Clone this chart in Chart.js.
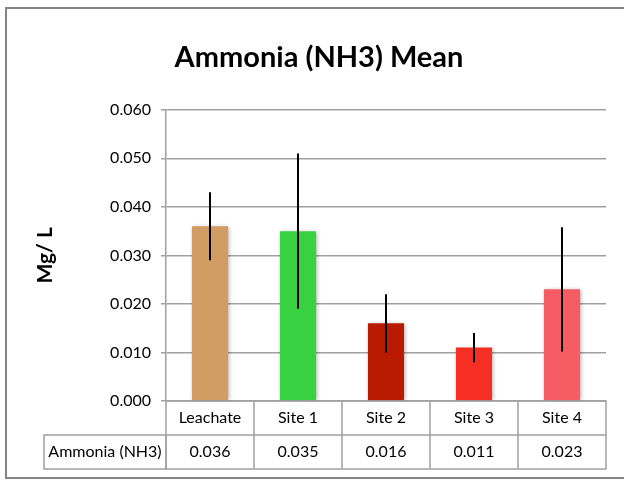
<!DOCTYPE html>
<html>
<head>
<meta charset="utf-8">
<title>Ammonia (NH3) Mean</title>
<script src="https://cdn.jsdelivr.net/npm/chart.js@4"></script>
<style>
  html, body { margin: 0; padding: 0; background: #fff; }
  #wrap { width: 624px; height: 481px; }
</style>
</head>
<body>
<div id="wrap"><canvas id="myChart" width="624" height="481"></canvas></div>
<script>
'use strict';

// chart data
let siteNames = ['Leachate', 'Site 1', 'Site 2', 'Site 3', 'Site 4'];
let ammoniaMeans = [0.036, 0.035, 0.016, 0.011, 0.023];
let ammoniaErrors = [0.007, 0.016, 0.006, 0.003, 0.0128];
let barColors = ['#d29d62', '#38d142', '#b81a02', '#f52f24', '#f65c64'];
let yTicks = [0, 0.01, 0.02, 0.03, 0.04, 0.05, 0.06];
let seriesName = 'Ammonia (NH3)';

let fontFamily = 'Lato, "Open Sans", sans-serif';
let lineGrey = '#a0a0a0';

// bars get a soft shadow, then the error bars go on top
const errorBarPlugin = {
  id: 'errorBars',
  beforeDatasetsDraw(chart) {
    let ctx = chart.ctx;
    ctx.save();
    ctx.shadowColor = 'rgba(0, 0, 0, 0.3)';
    ctx.shadowBlur = 4;
    ctx.shadowOffsetX = 1;
    ctx.shadowOffsetY = 1;
  },
  afterDatasetsDraw(chart) {
    let ctx = chart.ctx;
    ctx.restore();
    let meta = chart.getDatasetMeta(0);
    let yScale = chart.scales.y;
    ctx.save();
    ctx.strokeStyle = '#000';
    ctx.lineWidth = 2;
    meta.data.forEach(function (bar, i) {
      let top = yScale.getPixelForValue(ammoniaMeans[i] + ammoniaErrors[i]);
      let bottom = yScale.getPixelForValue(ammoniaMeans[i] - ammoniaErrors[i]);
      ctx.beginPath();
      ctx.moveTo(bar.x, top);
      ctx.lineTo(bar.x, bottom);
      ctx.stroke();
    });
    ctx.restore();
  }
};

// data table under the plot + outer frame
const dataTablePlugin = {
  id: 'dataTable',
  afterDraw(chart) {
    let ctx = chart.ctx;
    let xScale = chart.scales.x;
    let area = chart.chartArea;
    let cellW = (area.right - area.left) / siteNames.length;
    let headTop = area.bottom;
    let rowTop = headTop + 34;
    let rowBottom = rowTop + 34;
    let firstColLeft = 44;

    ctx.save();
    ctx.strokeStyle = lineGrey;
    ctx.lineWidth = 1.5;

    // header row (category labels come from the x axis)
    ctx.strokeRect(area.left, headTop, area.right - area.left, rowBottom - headTop);
    ctx.strokeRect(firstColLeft, rowTop, area.left - firstColLeft, rowBottom - rowTop);
    ctx.beginPath();
    ctx.moveTo(area.left, rowTop);
    ctx.lineTo(area.right, rowTop);
    for (let i = 1; i < siteNames.length; i++) {
      let x = area.left + cellW * i;
      ctx.moveTo(x, headTop);
      ctx.lineTo(x, rowBottom);
    }
    ctx.stroke();

    // value row
    ctx.fillStyle = '#000';
    ctx.font = '16px ' + fontFamily;
    ctx.textAlign = 'center';
    ctx.textBaseline = 'middle';
    let midY = (rowTop + rowBottom) / 2;
    ctx.fillText(seriesName, (firstColLeft + area.left) / 2, midY);
    for (let i = 0; i < siteNames.length; i++) {
      ctx.fillText(ammoniaMeans[i].toFixed(3), xScale.getPixelForValue(i), midY);
    }

    // outer frame of the chart object
    ctx.strokeStyle = '#858585';
    ctx.lineWidth = 2;
    ctx.strokeRect(6, 8, 700, 470);
    ctx.restore();
  }
};

const chartData = {
  labels: siteNames,
  datasets: [
    {
      label: seriesName,
      data: ammoniaMeans,
      backgroundColor: barColors,
      borderWidth: 0,
      barPercentage: 0.41,
      categoryPercentage: 1
    }
  ]
};

const config = {
  type: 'bar',
  data: chartData,
  options: {
    responsive: false,
    animation: false,
    layout: {
      padding: { left: 32, right: 18, top: 0, bottom: 0 }
    },
    plugins: {
      legend: { display: false },
      tooltip: { enabled: false },
      title: {
        display: true,
        text: 'Ammonia (NH3) Mean',
        color: '#000',
        font: { family: fontFamily, size: 29, weight: 'bold' },
        padding: { top: 40, bottom: 35 }
      }
    },
    scales: {
      x: {
        offset: true,
        grid: { display: false, drawTicks: false },
        border: { display: false },
        ticks: {
          color: '#000',
          font: { family: fontFamily, size: 16 },
          padding: 7,
          maxRotation: 0
        },
        afterFit(scale) {
          scale.height = 80;
        }
      },
      y: {
        min: 0,
        max: 0.06,
        afterBuildTicks(scale) {
          scale.ticks = yTicks.map(v => ({ value: v }));
        },
        ticks: {
          color: '#000',
          font: { family: fontFamily, size: 16 },
          padding: 10,
          callback: v => v.toFixed(3)
        },
        grid: { color: lineGrey, lineWidth: 1.5, tickLength: 5 },
        border: { color: lineGrey, width: 1.5 },
        title: {
          display: true,
          text: 'Mg/ L',
          color: '#000',
          font: { family: fontFamily, size: 21, weight: 'bold' },
          padding: { top: 1, bottom: 0 }
        },
        afterFit(scale) {
          scale.width = 134;
        }
      }
    }
  },
  plugins: [errorBarPlugin, dataTablePlugin]
};

let chartCanvas = document.getElementById('myChart').getContext('2d');
const myChart = new Chart(chartCanvas, config);
</script>
</body>
</html>
